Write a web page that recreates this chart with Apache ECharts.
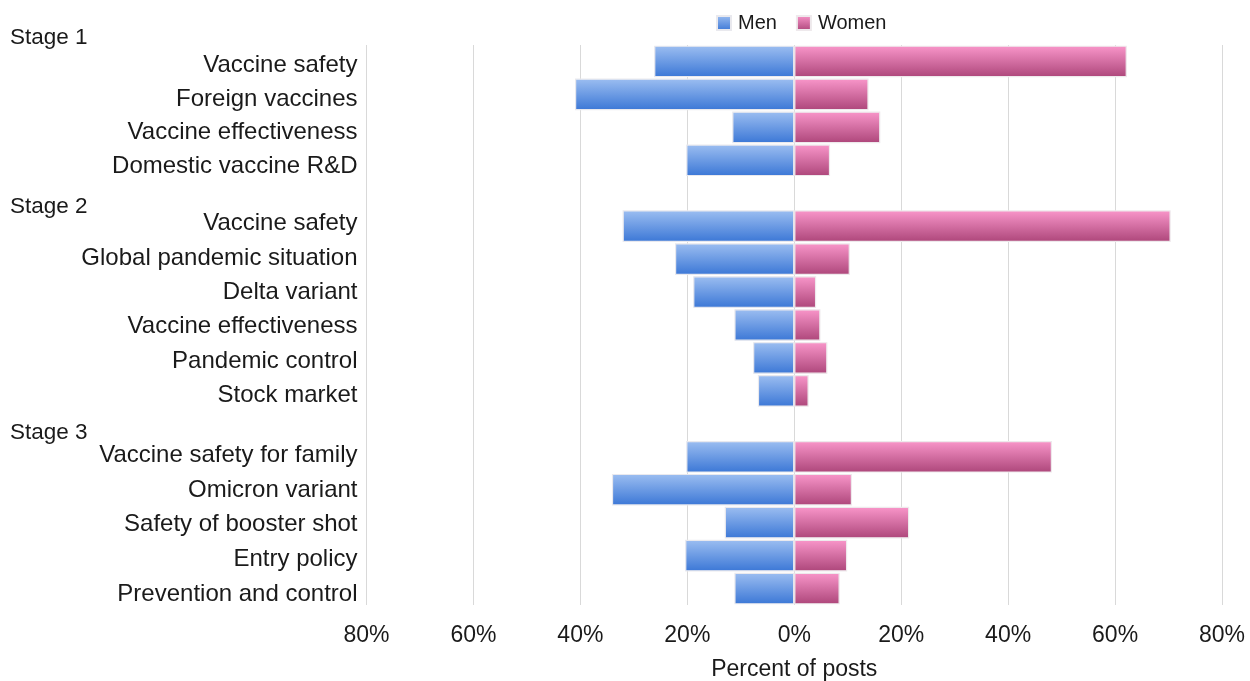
<!DOCTYPE html>
<html>
<head>
<meta charset="utf-8">
<script src="https://cdn.jsdelivr.net/npm/echarts@6/dist/echarts.min.js"></script>
<style>
  html, body { margin: 0; padding: 0; background: #ffffff; }
  #chart { width: 1250px; height: 681px; }
</style>
</head>
<body>
<div id="chart"></div>
<script>
// Share of posts (%) per topic, by gender, for each stage of the vaccine discussion
const stage1Topics = ['Vaccine safety', 'Foreign vaccines', 'Vaccine effectiveness', 'Domestic vaccine R&D'];
const stage1Men    = [26.2, 41.0, 11.6, 20.2];
const stage1Women  = [62.2, 13.9, 16.1, 6.7];

const stage2Topics = ['Vaccine safety', 'Global pandemic situation', 'Delta variant', 'Vaccine effectiveness', 'Pandemic control', 'Stock market'];
const stage2Men    = [32.1, 22.3, 18.9, 11.2, 7.7, 6.8];
const stage2Women  = [70.4, 10.4, 4.1, 4.9, 6.2, 2.7];

const stage3Topics = ['Vaccine safety for family', 'Omicron variant', 'Safety of booster shot', 'Entry policy', 'Prevention and control'];
const stage3Men    = [20.2, 34.1, 13.0, 20.4, 11.2];
const stage3Women  = [48.2, 10.8, 21.5, 9.9, 8.5];

const stageNames = ['Stage 1', 'Stage 2', 'Stage 3'];
const stageTopics = [stage1Topics, stage2Topics, stage3Topics];
const seriesNames = ['Men', 'Women'];
const axisName = 'Percent of posts';
const axisMin = -80, axisMax = 80, axisStep = 20;

// One empty row separates consecutive stages in the bar area
const gapRow = '';
const rows = [...stage1Topics, gapRow, ...stage2Topics, gapRow, ...stage3Topics];
const menValues = [...stage1Men, null, ...stage2Men, null, ...stage3Men].map(v => v == null ? null : -v);
const womenValues = [...stage1Women, null, ...stage2Women, null, ...stage3Women];

const FONT = '"Liberation Sans", Arial, Helvetica, sans-serif';
const TEXT = '#1a1a1a';

const menFill = new echarts.graphic.LinearGradient(0, 0, 0, 1, [
  { offset: 0, color: '#9cbef1' },
  { offset: 1, color: '#3b77d6' }
]);
const womenFill = new echarts.graphic.LinearGradient(0, 0, 0, 1, [
  { offset: 0, color: '#f996ca' },
  { offset: 1, color: '#ad467a' }
]);

// Layout: one grid for the bars, and one label column per stage
const plotLeft = 366.5, plotRight = 28;
const barGrid = { left: plotLeft, right: plotRight, top: 45, bottom: 76, outerBoundsMode: 'none' };
const labelBands = [
  { top: 48.4, height: 134.8 },
  { top: 206.3, height: 206.4 },
  { top: 437.8, height: 174 }
];
const stageLabelY = [38, 207, 433];

const chart = echarts.init(document.getElementById('chart'), null, { renderer: 'canvas' });

const grids = [barGrid].concat(labelBands.map(b => ({
  left: plotLeft, right: plotRight, top: b.top, height: b.height, outerBoundsMode: 'none'
})));

const xAxes = [{
  type: 'value',
  gridIndex: 0,
  min: axisMin,
  max: axisMax,
  interval: axisStep,
  name: axisName,
  nameLocation: 'middle',
  nameGap: 53,
  nameTextStyle: { fontFamily: FONT, fontSize: 23, color: TEXT },
  axisLine: { show: false },
  axisTick: { show: false },
  axisLabel: {
    fontFamily: FONT, fontSize: 23, color: TEXT, margin: 19,
    formatter: v => Math.abs(v) + '%'
  },
  splitLine: { show: true, lineStyle: { color: '#d9d9d9', width: 1 } }
}].concat(labelBands.map((b, i) => ({
  type: 'value', gridIndex: i + 1, min: axisMin, max: axisMax, show: false
})));

const yAxes = [{
  type: 'category',
  gridIndex: 0,
  data: rows,
  inverse: true,
  axisLine: { show: false },
  axisTick: { show: false },
  splitLine: { show: false },
  axisLabel: { show: false }
}].concat(stageTopics.map((t, i) => ({
  type: 'category',
  gridIndex: i + 1,
  data: t,
  inverse: true,
  axisLine: { show: false },
  axisTick: { show: false },
  splitLine: { show: false },
  axisLabel: { fontFamily: FONT, fontSize: 24, color: TEXT, margin: 9 }
})));

chart.setOption({
  animation: false,
  backgroundColor: '#ffffff',
  textStyle: { fontFamily: FONT },
  legend: {
    data: seriesNames,
    top: 8,
    left: 711,
    icon: 'rect',
    itemWidth: 14,
    itemHeight: 14,
    itemGap: 19,
    textStyle: { fontFamily: FONT, fontSize: 20, color: TEXT, padding: [0, 0, 0, 2] }
  },
  grid: grids,
  xAxis: xAxes,
  yAxis: yAxes,
  series: [
    {
      name: seriesNames[0],
      type: 'bar',
      xAxisIndex: 0,
      yAxisIndex: 0,
      data: menValues,
      barGap: '-100%',
      barCategoryGap: '4%',
      itemStyle: { color: menFill, borderColor: '#e9e9ee', borderWidth: 1.2 }
    },
    {
      name: seriesNames[1],
      type: 'bar',
      xAxisIndex: 0,
      yAxisIndex: 0,
      data: womenValues,
      barGap: '-100%',
      barCategoryGap: '4%',
      itemStyle: { color: womenFill, borderColor: '#eee9ec', borderWidth: 1.2 }
    }
  ],
  graphic: stageNames.map((s, i) => ({
    type: 'text',
    x: 10,
    y: stageLabelY[i],
    style: {
      text: s,
      fill: TEXT,
      font: '22.5px ' + FONT,
      align: 'left',
      verticalAlign: 'middle'
    }
  }))
});
</script>
</body>
</html>
